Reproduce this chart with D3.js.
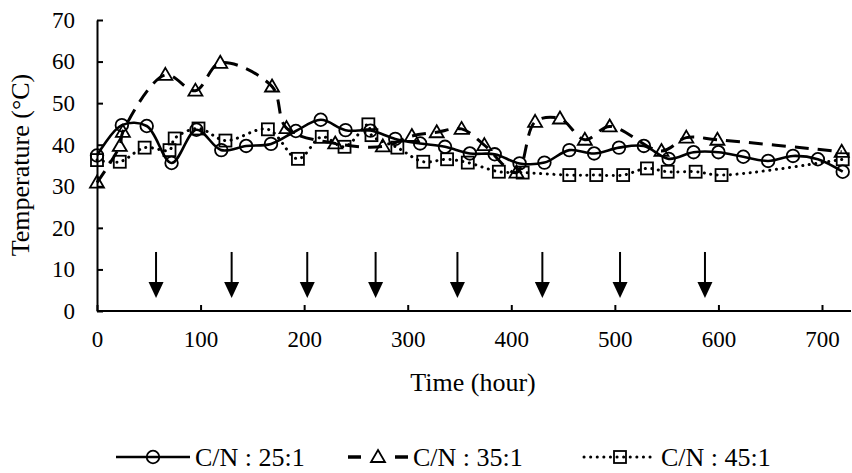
<!DOCTYPE html>
<html>
<head>
<meta charset="utf-8">
<script src="https://cdn.jsdelivr.net/npm/d3@7"></script>
<style>
  body { margin: 0; background: #fff; }
</style>
</head>
<body>
<div id="chart"></div>
<script>
// C/N 25:1 (circles, solid)
var hours25 = [0, 24, 48, 72, 96, 120, 144, 168, 192, 216, 240, 264, 288, 312, 336, 360, 384, 408, 432, 456, 480, 504, 528, 552, 576, 600, 624, 648, 672, 696, 720];
var temp25  = [37.4, 44.7, 44.5, 35.6, 43.6, 38.7, 39.7, 40.2, 43.3, 46.0, 43.5, 43.4, 41.4, 40.3, 39.5, 37.9, 37.7, 35.5, 35.7, 38.7, 37.9, 39.3, 39.7, 36.6, 38.2, 38.2, 37.1, 36.1, 37.3, 36.5, 33.5];
// C/N 35:1 (triangles, dashed)
var hours35 = [0, 22, 25, 66, 95, 119, 169, 183, 230, 276, 304, 328, 352, 374, 405, 423, 447, 471, 495, 545, 569, 599, 719];
var temp35  = [30.9, 39.7, 43.1, 56.8, 53.0, 59.7, 54.0, 44.0, 40.3, 39.6, 42.1, 43.0, 43.8, 39.9, 33.3, 45.5, 46.3, 41.2, 44.4, 38.5, 41.7, 41.2, 38.3];
// C/N 45:1 (squares, dotted)
var hours45 = [0, 22, 46, 70, 75, 98, 124, 165, 194, 217, 239, 262, 265, 290, 315, 338, 358, 388, 411, 456, 482, 508, 531, 551, 578, 603, 720];
var temp45  = [36.3, 35.9, 39.3, 38.7, 41.5, 43.9, 41.0, 43.7, 36.6, 41.9, 39.5, 44.9, 42.3, 39.3, 35.9, 36.5, 35.7, 33.5, 33.3, 32.7, 32.7, 32.7, 34.3, 33.5, 33.5, 32.7, 36.5];
// feeding times (arrows)
var arrowHours = [57, 130, 203, 269, 348, 430, 505, 587];
var arrowTop = 14.2, arrowTip = 3.1;

var xTicks = [0, 100, 200, 300, 400, 500, 600, 700];
var yTicks = [0, 10, 20, 30, 40, 50, 60, 70];

var width = 852, height = 473;
var serif = '"Liberation Serif", "Times New Roman", "DejaVu Serif", serif';

var svg = d3.select("#chart").append("svg")
  .attr("width", width)
  .attr("height", height);

var x = d3.scaleLinear().domain([0, 728]).range([97, 851]);
var y = d3.scaleLinear().domain([0, 70]).range([311, 20]);

function zip(h, v) { return h.map(function(d, i) { return [d, v[i]]; }); }

var series = [
  { name: "C/N : 25:1", data: zip(hours25, temp25), dash: null, marker: "circle", cap: "butt", w: 2.6 },
  { name: "C/N : 35:1", data: zip(hours35, temp35), dash: "14,9", marker: "triangle", cap: "butt", w: 3 },
  { name: "C/N : 45:1", data: zip(hours45, temp45), dash: "0.1,6.5", marker: "square", cap: "round", w: 3 }
];

var line = d3.line()
  .x(function(d) { return x(d[0]); })
  .y(function(d) { return y(d[1]); })
  .curve(d3.curveCatmullRom.alpha(0.5));

function drawMarker(g, type, cx, cy) {
  if (type == "circle") {
    g.append("circle").attr("cx", cx).attr("cy", cy).attr("r", 6.3)
      .attr("fill", "none").attr("stroke", "#000").attr("stroke-width", 1.8);
  } else if (type == "square") {
    g.append("rect").attr("x", cx - 6).attr("y", cy - 6).attr("width", 12).attr("height", 12)
      .attr("fill", "none").attr("stroke", "#000").attr("stroke-width", 1.8);
  } else {
    g.append("path")
      .attr("d", "M" + cx + "," + (cy - 7) + "L" + (cx + 7) + "," + (cy + 5) + "L" + (cx - 7) + "," + (cy + 5) + "Z")
      .attr("fill", "none").attr("stroke", "#000").attr("stroke-width", 1.8);
  }
}

// lines + markers
series.forEach(function(s) {
  svg.append("path")
    .datum(s.data)
    .attr("d", line)
    .attr("fill", "none")
    .attr("stroke", "#000")
    .attr("stroke-width", s.w)
    .attr("stroke-linecap", s.cap)
    .attr("stroke-dasharray", s.dash);
  var g = svg.append("g");
  s.data.forEach(function(d) { drawMarker(g, s.marker, x(d[0]), y(d[1])); });
});

// arrows
var arrows = svg.append("g");
arrowHours.forEach(function(h) {
  var ax = x(h);
  var headTop = y(arrowTip) - 16;
  arrows.append("line")
    .attr("x1", ax).attr("x2", ax)
    .attr("y1", y(arrowTop)).attr("y2", headTop + 2)
    .attr("stroke", "#000").attr("stroke-width", 2);
  arrows.append("path")
    .attr("d", "M" + (ax - 7.5) + "," + headTop + "L" + (ax + 7.5) + "," + headTop + "L" + ax + "," + y(arrowTip) + "Z")
    .attr("fill", "#000");
});

// AXIS
var xAxis = svg.append("g")
  .attr("transform", "translate(0," + y(0) + ")")
  .call(d3.axisBottom(x).tickValues(xTicks).tickSizeInner(-6).tickSizeOuter(0).tickPadding(20));
xAxis.select(".domain").attr("stroke-width", 2).attr("d", "M" + x(0) + ",0H" + x(728));

var yAxis = svg.append("g")
  .attr("transform", "translate(" + x(0) + ",0)")
  .call(d3.axisLeft(y).tickValues(yTicks).tickSizeInner(-6).tickSizeOuter(0).tickPadding(22));
yAxis.select(".domain").attr("stroke-width", 2);

svg.selectAll(".domain, .tick line").attr("stroke", "#000").attr("stroke-width", 2);
svg.selectAll(".tick text")
  .style("font-family", serif)
  .style("font-size", "23px")
  .attr("fill", "#000");

// AXIS LABELS
svg.append("text")
  .attr("x", 473)
  .attr("y", 391)
  .attr("text-anchor", "middle")
  .style("font-family", serif)
  .style("font-size", "26px")
  .text("Time (hour)");

svg.append("text")
  .attr("transform", "translate(29,165) rotate(-90)")
  .attr("text-anchor", "middle")
  .style("font-family", serif)
  .style("font-size", "26px")
  .text("Temperature (°C)");

// LEGEND
var legendY = 457;
var legendItems = [
  { s: series[0], x0: 116, x1: 190, tx: 195 },
  { s: series[1], x0: 348, x1: 408, tx: 413 },
  { s: series[2], x0: 584, x1: 656, tx: 661 }
];
legendItems.forEach(function(it) {
  var lg = svg.append("g");
  if (it.s.marker == "triangle") {
    lg.append("line").attr("x1", it.x0).attr("x2", it.x0 + 13).attr("y1", legendY).attr("y2", legendY)
      .attr("stroke", "#000").attr("stroke-width", 3.5);
    lg.append("line").attr("x1", it.x1 - 13).attr("x2", it.x1).attr("y1", legendY).attr("y2", legendY)
      .attr("stroke", "#000").attr("stroke-width", 3.5);
  } else {
    lg.append("line").attr("x1", it.x0).attr("x2", it.x1).attr("y1", legendY).attr("y2", legendY)
      .attr("stroke", "#000").attr("stroke-width", it.s.w)
      .attr("stroke-linecap", it.s.cap)
      .attr("stroke-dasharray", it.s.dash);
  }
  drawMarker(lg, it.s.marker, (it.x0 + it.x1) / 2, legendY);
  lg.append("text")
    .attr("x", it.tx)
    .attr("y", legendY + 9)
    .style("font-family", serif)
    .style("font-size", "26px")
    .text(it.s.name);
});
</script>
</body>
</html>
